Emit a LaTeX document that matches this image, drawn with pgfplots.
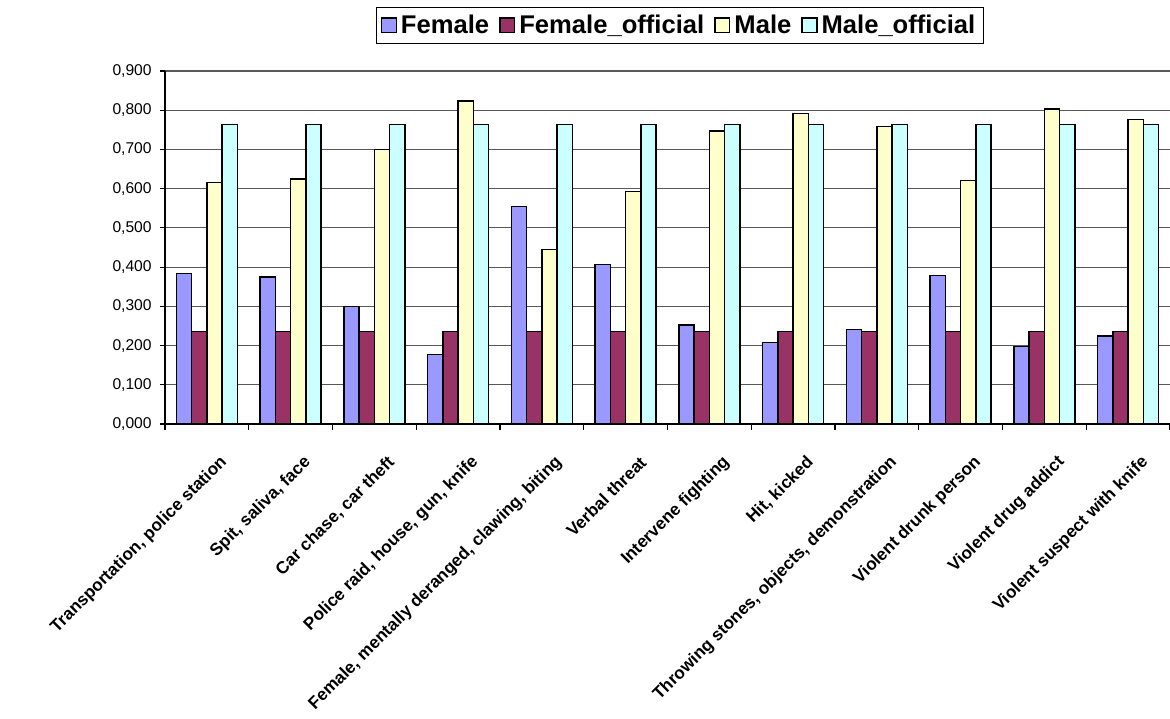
\documentclass[border=0pt]{standalone}
\usepackage{fontspec}
\setmainfont{Liberation Sans}
\usepackage{pgfplots}
\usepackage{pgfplotstable}
\pgfplotsset{compat=1.18}

\definecolor{cfemale}{HTML}{9999FF}
\definecolor{cfemoff}{HTML}{993366}
\definecolor{cmale}{HTML}{FFFFCC}
\definecolor{cmaleoff}{HTML}{CCFFFF}

% share of responses per situation
\pgfplotstableread{
idx female femoff male maleoff
0  0.384 0.236 0.616 0.764
1  0.375 0.236 0.625 0.764
2  0.300 0.236 0.700 0.764
3  0.177 0.236 0.823 0.764
4  0.555 0.236 0.445 0.764
5  0.407 0.236 0.593 0.764
6  0.253 0.236 0.747 0.764
7  0.208 0.236 0.792 0.764
8  0.241 0.236 0.759 0.764
9  0.379 0.236 0.621 0.764
10 0.197 0.236 0.803 0.764
11 0.224 0.236 0.776 0.764
}\datatable

\begin{document}
\begin{tikzpicture}
\useasboundingbox (0pt,0pt) rectangle (585pt,359pt);
\begin{axis}[
  at={(82.5pt,147pt)}, anchor=south west,
  scale only axis, width=502.5pt, height=176.5pt,
  xmin=-0.5, xmax=11.5, ymin=0, ymax=0.9,
  ybar=0pt, bar width=7.65pt,
  axis x line=bottom, axis y line=left,
  axis line style={-, black, line width=0.6pt},
  ymajorgrids, grid style={black!65, line width=0.6pt},
  ytick={0,0.1,0.2,0.3,0.4,0.5,0.6,0.7,0.8,0.9},
  /pgf/number format/fixed,
  /pgf/number format/fixed zerofill,
  /pgf/number format/precision=3,
  /pgf/number format/use comma,
  /pgf/number format/assume math mode=true,
  yticklabel style={font=\fontsize{7.8}{9}\selectfont, inner sep=0pt, xshift=-4pt},
  tick align=outside,
  major tick length=2.5pt, minor tick length=2.8pt,
  tick style={black, line width=0.6pt},
  xtick={0,...,11},
  major x tick style={draw=none},
  minor xtick={-0.5,0.5,...,11.5},
  xticklabels={
    {Transportation, police station},
    {Spit, saliva, face},
    {Car chase, car theft},
    {Police raid, house, gun, knife},
    {Female, mentally deranged, clawing, biting},
    {Verbal threat},
    {Intervene fighting},
    {Hit, kicked},
    {Throwing stones, objects, demonstration},
    {Violent drunk person},
    {Violent drug addict},
    {Violent suspect with knife}},
  xticklabel style={rotate=45, anchor=east, inner sep=0pt,
    font=\bfseries\fontsize{8.6}{10}\selectfont, yshift=-17pt, xshift=-4.5pt},
  legend columns=4,
  legend style={at={(0.5124,1.1813)}, anchor=north, draw=black, line width=0.6pt,
    font=\bfseries\fontsize{12.8}{14}\selectfont, inner xsep=2pt, inner ysep=1.5pt,
    /tikz/every even column/.append style={column sep=3pt}},
  legend image code/.code={\draw[#1, line width=0.7pt] (0pt,-3.6pt) rectangle (7.4pt,3.6pt);},
  every axis plot/.append style={draw=black, line width=0.75pt},
]
\addplot[fill=cfemale] table[x=idx, y=female] {\datatable};
\addplot[fill=cfemoff] table[x=idx, y=femoff] {\datatable};
\addplot[fill=cmale] table[x=idx, y=male] {\datatable};
\addplot[fill=cmaleoff] table[x=idx, y=maleoff] {\datatable};
\legend{Female, Female\_official, Male, Male\_official}
\end{axis}
\end{tikzpicture}
\end{document}
